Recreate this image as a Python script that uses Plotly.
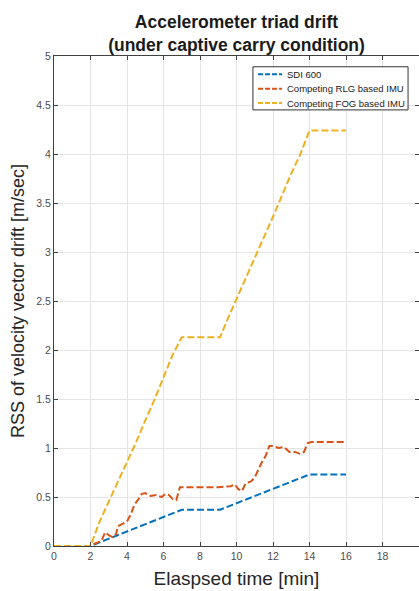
import plotly.graph_objects as go

# ---- data ----
sdi_x = [0, 2, 7, 9.1, 14, 16]
sdi_y = [0, 0, 0.37, 0.37, 0.73, 0.73]

rlg_x = [0, 2.0, 2.3, 2.6, 2.8, 3.0, 3.2, 3.4, 3.5, 3.7, 4.0, 4.2, 4.4, 4.6, 4.8, 5.0,
         5.3, 5.6, 5.9, 6.1, 6.3, 6.5, 6.7, 6.9, 7.0, 8.0, 9.0, 9.7, 9.9, 10.1, 10.3,
         10.5, 10.8, 11.0, 11.2, 11.4, 11.6, 11.8, 12.0, 12.3, 12.6, 12.9, 13.2, 13.5,
         13.7, 13.9, 14.1, 16.0]
rlg_y = [0, 0, 0.03, 0.05, 0.14, 0.11, 0.09, 0.12, 0.20, 0.22, 0.25, 0.32, 0.42, 0.47,
         0.53, 0.54, 0.51, 0.52, 0.50, 0.53, 0.52, 0.48, 0.47, 0.60, 0.60, 0.60, 0.60,
         0.61, 0.63, 0.58, 0.56, 0.64, 0.66, 0.70, 0.78, 0.86, 0.92, 1.02, 1.02, 1.00,
         1.01, 0.96, 0.96, 0.94, 0.96, 1.05, 1.06, 1.06]

fog_x = [0, 2, 2.5, 3, 3.5, 4, 4.5, 5, 5.5, 6, 6.5, 7, 9.1, 9.5, 10, 11, 12, 13, 13.5, 14, 16]
fog_y = [0, 0, 0.25, 0.45, 0.66, 0.86, 1.06, 1.28, 1.49, 1.72, 1.95, 2.13, 2.13, 2.31,
         2.52, 2.93, 3.36, 3.80, 4.00, 4.24, 4.24]

names = ["SDI 600", "Competing RLG based IMU", "Competing FOG based IMU"]
colors = ["#0072BD", "#D95319", "#EDB120"]

x_ticks = [0, 2, 4, 6, 8, 10, 12, 14, 16, 18, 20]
y_ticks = [0, 0.5, 1, 1.5, 2, 2.5, 3, 3.5, 4, 4.5, 5]
y_tick_labels = ["0", "0.5", "1", "1.5", "2", "2.5", "3", "3.5", "4", "4.5", "5"]

title_text = "<b>Accelerometer triad drift<br>(under captive carry condition)</b>"
x_title = "Elaspsed time [min]"
y_title = "RSS of velocity vector drift [m/sec]"

FONT = "Liberation Sans, Arial, sans-serif"
DASH = "7px,3px"

fig = go.Figure()
for xs, ys, nm, c in [(sdi_x, sdi_y, names[0], colors[0]),
                      (rlg_x, rlg_y, names[1], colors[1]),
                      (fog_x, fog_y, names[2], colors[2])]:
    fig.add_trace(go.Scatter(x=xs, y=ys, mode="lines", name=nm, showlegend=False,
                             line=dict(color=c, width=2, dash=DASH)))

axis_common = dict(
    showline=True, linecolor="#404040", linewidth=1, mirror="ticks",
    ticks="inside", ticklen=4, tickcolor="#404040", automargin=False,
    showgrid=True, gridcolor="#e5e5e5", gridwidth=1,
    zeroline=False, tickfont=dict(family=FONT, size=10.5, color="#4d4d4d"),
)

# ---- legend box drawn in paper coordinates (matches the reference's compact legend) ----
leg_x0, leg_x1, leg_y0, leg_y1 = 0.545, 0.970, 0.890, 0.978
leg_line_x0, leg_line_x1, leg_text_x = 0.559, 0.625, 0.633
leg_rows = [0.963, 0.933, 0.904]

shapes = [dict(type="rect", xref="paper", yref="paper", x0=leg_x0, x1=leg_x1,
               y0=leg_y0, y1=leg_y1, line=dict(color="#333333", width=1),
               fillcolor="white", layer="above")]
annotations = []
for nm, c, yy in zip(names, colors, leg_rows):
    shapes.append(dict(type="line", xref="paper", yref="paper", x0=leg_line_x0,
                       x1=leg_line_x1, y0=yy, y1=yy, layer="above",
                       line=dict(color=c, width=2, dash="5px,2px")))
    annotations.append(dict(text=nm, xref="paper", yref="paper", x=leg_text_x, y=yy,
                            xanchor="left", yanchor="middle", showarrow=False,
                            font=dict(family=FONT, size=9.5, color="#1a1a1a")))

fig.update_layout(
    width=419, height=591,
    margin=dict(l=54, r=0, t=56, b=45, autoexpand=False),
    paper_bgcolor="white", plot_bgcolor="white",
    title=dict(text=title_text, x=0.5, xref="paper", xanchor="center",
               yref="container", y=1 - 28 / 591, yanchor="middle",
               font=dict(family=FONT, size=17.5, color="#1a1a1a")),
    xaxis=dict(range=[0, 20], tickvals=x_ticks,
               title=dict(text=x_title, font=dict(family=FONT, size=19, color="#262626"),
                          standoff=11),
               **axis_common),
    yaxis=dict(range=[0, 5], tickvals=y_ticks, ticktext=y_tick_labels,
               title=dict(text=y_title, font=dict(family=FONT, size=18, color="#262626"),
                          standoff=6),
               **axis_common),
    shapes=shapes,
    annotations=annotations,
    showlegend=False,
)

fig.write_html("out.html", config={"displayModeBar": False},
               post_script="document.body.style.margin='0';")
